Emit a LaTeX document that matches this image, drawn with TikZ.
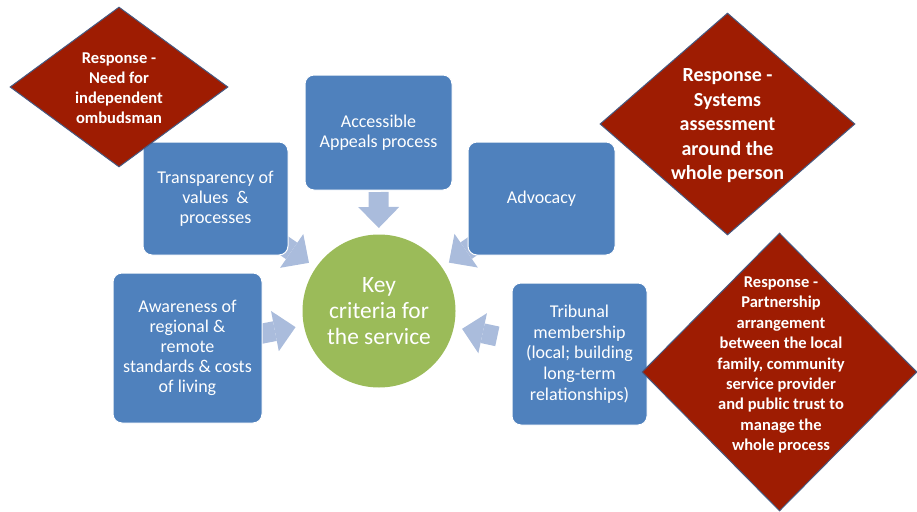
\documentclass[tikz,border=0pt]{standalone}
\usepackage{fontspec}
\setmainfont{Carlito}
\usetikzlibrary{shapes.geometric,arrows.meta,calc,backgrounds}
\definecolor{boxblue}{RGB}{79,129,189}
\definecolor{dred}{RGB}{158,28,2}
\definecolor{dedge}{RGB}{70,90,130}
\definecolor{keygreen}{RGB}{155,187,89}
\definecolor{arrowblue}{RGB}{170,188,220}
\begin{document}
\begin{tikzpicture}[x=1pt,y=-1pt,
  box/.style={rectangle, rounded corners=9pt, fill=boxblue, draw=white, line width=1pt,
    text=white, align=center, inner sep=0pt, font=\fontsize{18}{20}\selectfont},
  resp/.style={diamond, fill=dred, draw=dedge, line width=1pt, inner sep=0pt},
  resptext/.style={text=white, align=center, inner sep=0pt, font=\bfseries\fontsize{16.5}{20}\selectfont},
  keynode/.style={circle, fill=keygreen, text=white, align=center, inner sep=0pt,
    minimum size=153pt, font=\fontsize{23.4}{26}\selectfont},
  blockarrow/.style={draw=arrowblue, line width=20pt,
    -{Triangle[width=41pt,length=21pt,line width=0pt]}},
]
\useasboundingbox (0,0) rectangle (917,511);
\clip (0,0) rectangle (917,511);

% central circle
\node[keynode] (key) at (379,311) {Key\\criteria for\\the service};

% blue boxes
\node[box, minimum width=145pt, minimum height=113pt] (trans) at (215.5,198.5)
  {Transparency of\\values~ \&\\processes};
\node[box, minimum width=147pt, minimum height=115pt] (acc) at (378.5,132.5)
  {Accessible\\Appeals process};
\node[box, minimum width=147pt, minimum height=113pt] (adv) at (541.5,198.5)
  {Advocacy};
\node[box, minimum width=149pt, minimum height=150pt] (aware) at (187.5,348)
  {Awareness of\\regional \&\\remote\\standards \& costs\\of living};
\node[box, minimum width=135pt, minimum height=142pt, font=\fontsize{18}{20.6}\selectfont] (trib) at (579.5,354)
  {Tribunal\\membership\\(local; building\\long-term\\relationships)};

% block arrows towards the centre
\begin{scope}[on background layer]
  \draw[blockarrow] ($(key)!119pt!(acc)$) -- ($(key)!83pt!(acc)$);
  \draw[blockarrow] ($(key)!121pt!(trans)$) -- ($(key)!85pt!(trans)$);
  \draw[blockarrow] ($(key)!121pt!(adv)$) -- ($(key)!85pt!(adv)$);
  \draw[blockarrow] ($(key)!121pt!(aware)$) -- ($(key)!85pt!(aware)$);
  \draw[blockarrow] ($(key)!121pt!(trib)$) -- ($(key)!85pt!(trib)$);
\end{scope}

% response diamonds
\node[resp, minimum width=218pt, minimum height=160pt] (d1) at (119,87) {};
\node[resptext] (d1t) at (119,88) {Response -\\Need for\\independent\\ombudsman};

\node[resp, minimum width=255pt, minimum height=222pt] (d2) at (727.5,124) {};
\node[resptext, font=\bfseries\fontsize{20}{24.5}\selectfont] (d2t) at (727.5,126)
  {Response -\\Systems\\assessment\\around the\\whole person};

\node[resp, minimum width=275pt, minimum height=278pt] (d3) at (779.5,372) {};
\node[resptext, font=\bfseries\fontsize{16.5}{20.4}\selectfont] (d3t) at (781,365)
  {Response -\\Partnership\\arrangement\\between the local\\family, community\\service provider\\and public trust to\\manage the\\whole process};
\end{tikzpicture}
\end{document}
